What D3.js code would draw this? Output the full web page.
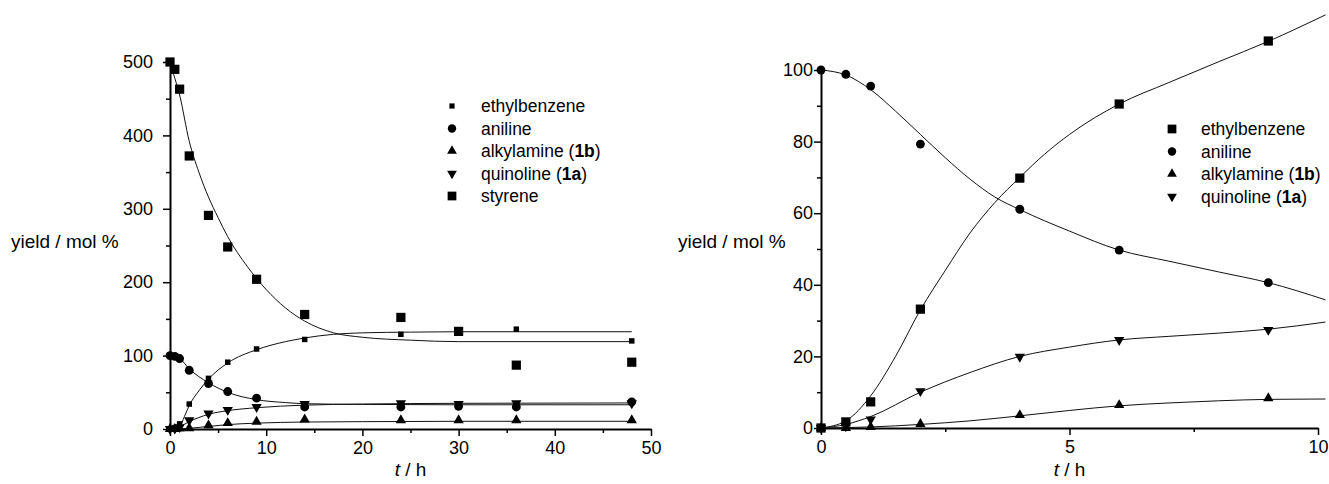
<!DOCTYPE html>
<html>
<head>
<meta charset="utf-8">
<script src="https://cdn.jsdelivr.net/npm/d3@7"></script>
<style>
  body { margin: 0; background: #fff; }
  svg { font-family: "Liberation Sans", Arial, Helvetica, sans-serif; }
  .axis path, .axis line { stroke: #000; }
  .axis text { font-size: 18px; fill: #000; }
  .fit { fill: none; stroke: #111; stroke-width: 1; }
</style>
</head>
<body>
<svg id="chart" width="1329" height="484"></svg>
<script>
// ---- left panel: measured points ----
const leftTimes = [0, 0.5, 1, 2, 4, 6, 9, 14, 24, 30, 36, 48];
const leftEthylbenzene = [0, 2, 7, 34, 69, 91, 109, 122, 129, 132, 136, 120];
const leftAniline = [100, 99, 96, 80, 62, 51, 42, 30, 30, 31, 30, 37];
const leftAlkylamine = [0, 0, 0.5, 1, 5, 8, 10, 13, 12, 12, 12, 12];
const leftQuinoline = [0, 0.5, 2.5, 12, 21, 26, 30, 34, 35, 34, 35, 35];
const leftStyrene = [500, 490, 463, 372, 291, 248, 204, 156, 152, 133, 87, 91];

// ---- left panel: fitted curves [t, yield] ----
const leftStyreneFit = [[0,500],[0.5,478],[1,455],[2,392],[3,350],[4,316],[5,288],[6,262],[8,222],[10,190],[12,165],[14,147],[17,131],[20,125],[25,121],[30,119],[48,119]];
const leftEthylbenzeneFit = [[0,0],[0.5,0.5],[1,3],[1.5,17],[2,32],[3,52],[4,68],[6,90],[9,108],[12,119],[14,124],[17,129],[20,131],[25,132],[30,132.5],[48,132.5]];
const leftAnilineFit = [[0,100],[1,96],[2,82],[4,63],[6,50],[9,40],[12,36],[14,34.5],[20,33.5],[30,33],[48,33]];
const leftQuinolineFit = [[0,0],[0.5,0.5],[1,3],[2,10],[4,20],[6,25],[9,29],[14,32.5],[20,34],[30,35],[48,35.5]];
const leftAlkylamineFit = [[0,0],[1,0.3],[2,1],[4,3.5],[6,6],[9,8],[14,9.5],[20,10],[30,10.5],[48,10.5]];

// ---- right panel: measured points ----
const rightTimes = [0, 0.5, 1, 2, 4, 6, 9];
const rightEthylbenzene = [0, 1.7, 7.3, 33.2, 69.8, 90.5, 108.1];
const rightAniline = [100, 98.8, 95.5, 79.3, 61.1, 49.7, 40.6];
const rightAlkylamine = [0, 0, 0.3, 1.1, 3.6, 6.4, 8.3];
const rightQuinoline = [0, 0.5, 2.4, 10.3, 19.9, 24.6, 27.4];

// ---- right panel: fitted curves ----
const rightEthylbenzeneFit = [[0,0],[0.5,2],[1,9],[1.5,20],[2,33],[2.5,44],[3,54.5],[3.5,63],[4,70],[4.5,76.5],[5,82],[6,90.5],[7,96.5],[8,102.3],[9,108],[10.15,115.4]];
const rightAnilineFit = [[0,100],[0.5,98.6],[1,94.5],[1.5,88.5],[2,82],[2.5,75.5],[3,69.5],[3.5,64.5],[4,61],[5,55],[6,49.7],[7,46.6],[8,43.6],[9,40.6],[10.15,35.8]];
const rightQuinolineFit = [[0,0],[0.5,1],[1,3.2],[2,10],[3,15.5],[4,20],[5,22.6],[6,24.6],[7,25.6],[8,26.5],[9,27.6],[10.15,29.6]];
const rightAlkylamineFit = [[0,0],[1,0.3],[2,1],[3,2],[4,3.4],[5,4.9],[6,6.2],[7,7],[8,7.6],[9,8],[10.15,8.1]];

const svg = d3.select("#chart");

// marker shapes
const markers = {
  bigSquare:   { type: d3.symbolSquare, size: 85, rot: 0 },
  smallSquare: { type: d3.symbolSquare, size: 30, rot: 0 },
  circle:      { type: d3.symbolCircle, size: 62, rot: 0 },
  up:          { type: d3.symbolTriangle, size: 46, rot: 0 },
  down:        { type: d3.symbolTriangle, size: 46, rot: 180 }
};

function drawPanel(p) {
  const x = d3.scaleLinear().domain(p.xDomain).range(p.xRange);
  const y = d3.scaleLinear().domain(p.yDomain).range(p.yRange);
  const g = svg.append("g");

  // minor ticks
  g.append("g").attr("class", "axis")
    .attr("transform", `translate(0,${p.yRange[0]})`)
    .call(d3.axisBottom(x).tickValues(p.xMinor).tickSize(4).tickFormat(""))
    .call(a => a.select(".domain").remove())
    .selectAll("line").attr("stroke-width", 1.5);
  g.append("g").attr("class", "axis")
    .attr("transform", `translate(${p.xRange[0]},0)`)
    .call(d3.axisLeft(y).tickValues(p.yMinor).tickSize(4).tickFormat(""))
    .call(a => a.select(".domain").remove())
    .selectAll("line").attr("stroke-width", 1.5);

  // major ticks
  const xa = g.append("g").attr("class", "axis")
    .attr("transform", `translate(0,${p.yRange[0]})`)
    .call(d3.axisBottom(x).tickValues(p.xTicks).tickSize(7).tickPadding(5).tickSizeOuter(0));
  xa.select(".domain").attr("stroke-width", 2);
  xa.selectAll("line").attr("stroke-width", 1.5);
  const ya = g.append("g").attr("class", "axis")
    .attr("transform", `translate(${p.xRange[0]},0)`)
    .call(d3.axisLeft(y).tickValues(p.yTicks).tickSize(7).tickPadding(p.yPad).tickSizeOuter(0));
  ya.select(".domain").attr("stroke-width", 2);
  ya.selectAll("line").attr("stroke-width", 1.5);

  // fitted curves
  const line = d3.line().x(d => x(d[0])).y(d => y(d[1])).curve(d3.curveMonotoneX);
  p.fits.forEach(f => g.append("path").attr("class", "fit").attr("d", line(f)));

  // points
  p.series.forEach(s => {
    const m = markers[s.marker];
    g.append("g").selectAll("path")
      .data(s.values.map((v, i) => [p.times[i], v]))
      .join("path")
      .attr("d", d3.symbol().type(m.type).size(m.size))
      .attr("transform", d => `translate(${x(d[0])},${y(d[1])}) rotate(${m.rot})`)
      .attr("fill", "#000");
  });

  // axis titles
  g.append("text")
    .attr("x", d3.mean(p.xRange)).attr("y", 476)
    .attr("text-anchor", "middle").attr("font-size", 19)
    .call(t => {
      t.append("tspan").attr("font-style", "italic").text("t");
      t.append("tspan").text(" / h");
    });
  g.append("text")
    .attr("x", p.yTitleX).attr("y", 248)
    .attr("font-size", 19)
    .text("yield / mol %");

  // legend
  const lg = g.append("g").attr("transform", `translate(${p.legend[0]},${p.legend[1]})`);
  p.series.forEach((s, i) => {
    const m = markers[s.legendMarker || s.marker];
    const row = lg.append("g").attr("transform", `translate(0,${i * 22.5})`);
    row.append("path")
      .attr("d", d3.symbol().type(m.type).size(m.size * 0.9))
      .attr("transform", `rotate(${m.rot})`)
      .attr("fill", "#000");
    const t = row.append("text").attr("x", 29).attr("y", 6).attr("font-size", 17.5);
    t.append("tspan").text(s.label);
    if (s.bold) {
      t.append("tspan").text(" (");
      t.append("tspan").attr("font-weight", "bold").text(s.bold);
      t.append("tspan").text(")");
    }
  });
}

drawPanel({
  xDomain: [0, 50], xRange: [170, 651],
  yDomain: [0, 500], yRange: [429, 62],
  xTicks: [0, 10, 20, 30, 40, 50], xMinor: [5, 15, 25, 35, 45],
  yTicks: [0, 100, 200, 300, 400, 500], yMinor: [50, 150, 250, 350, 450],
  yPad: 10, yTitleX: 11,
  times: leftTimes,
  fits: [leftStyreneFit, leftEthylbenzeneFit, leftAnilineFit, leftQuinolineFit, leftAlkylamineFit],
  legend: [452, 106],
  series: [
    { label: "ethylbenzene", values: leftEthylbenzene, marker: "smallSquare" },
    { label: "aniline", values: leftAniline, marker: "circle" },
    { label: "alkylamine", bold: "1b", values: leftAlkylamine, marker: "up" },
    { label: "quinoline", bold: "1a", values: leftQuinoline, marker: "down" },
    { label: "styrene", values: leftStyrene, marker: "bigSquare" }
  ]
});

drawPanel({
  xDomain: [0, 10], xRange: [821, 1318],
  yDomain: [0, 100], yRange: [428, 70],
  xTicks: [0, 5, 10], xMinor: [2.5, 7.5],
  yTicks: [0, 20, 40, 60, 80, 100], yMinor: [10, 30, 50, 70, 90],
  yPad: 1, yTitleX: 678,
  times: rightTimes,
  fits: [rightEthylbenzeneFit, rightAnilineFit, rightQuinolineFit, rightAlkylamineFit],
  legend: [1172, 129],
  series: [
    { label: "ethylbenzene", values: rightEthylbenzene, marker: "bigSquare" },
    { label: "aniline", values: rightAniline, marker: "circle" },
    { label: "alkylamine", bold: "1b", values: rightAlkylamine, marker: "up" },
    { label: "quinoline", bold: "1a", values: rightQuinoline, marker: "down" }
  ]
});
</script>
</body>
</html>
